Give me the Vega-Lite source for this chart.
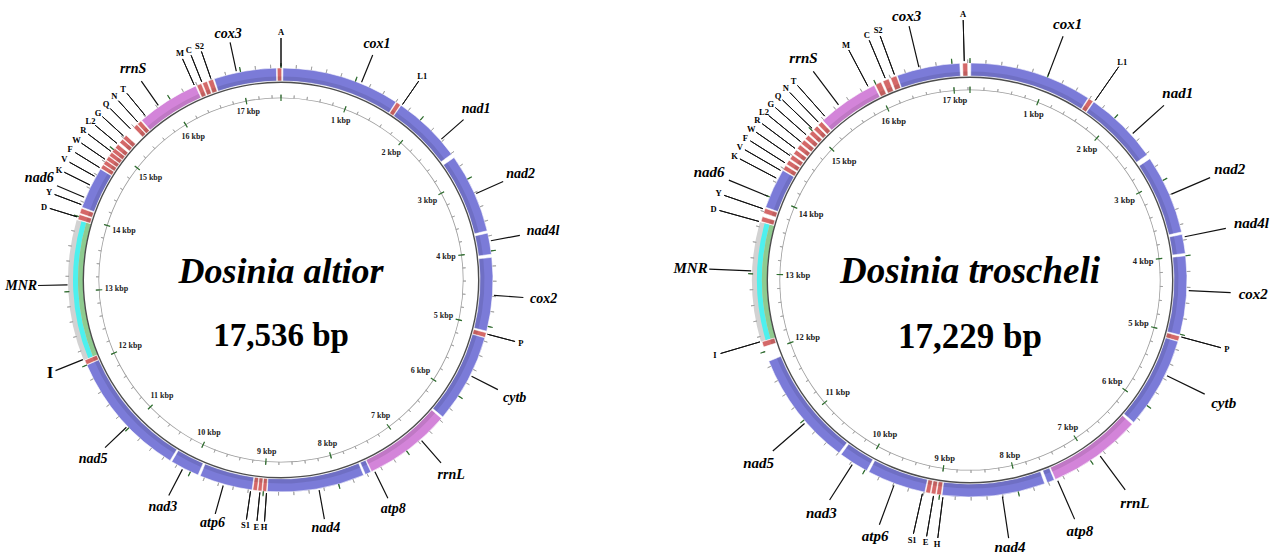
{
  "$schema": "https://vega.github.io/schema/vega-lite/v6.json",
  "background": "white",
  "padding": {"left": 0, "top": 6, "right": 0, "bottom": 0},
  "spacing": 94,
  "config": {"view": {"stroke": null}},
  "resolve": {"scale": {"theta": "independent", "color": "independent"}},
  "datasets": {
    "fa": [
      {"name": "A", "type": "tRNA", "start": 17486, "end": 17546, "lbp": 0},
      {"name": "cox1", "type": "gene", "start": 25, "end": 1600, "lbp": 1080},
      {"name": "L1", "type": "tRNA", "start": 1610, "end": 1672, "lbp": 1690},
      {"name": "nad1", "type": "gene", "start": 1680, "end": 2610, "lbp": 2372},
      {"name": "nad2", "type": "gene", "start": 2665, "end": 3730, "lbp": 3220},
      {"name": "nad4l", "type": "gene", "start": 3760, "end": 4045, "lbp": 3868},
      {"name": "cox2", "type": "gene", "start": 4085, "end": 5065, "lbp": 4585},
      {"name": "P", "type": "tRNA", "start": 5085, "end": 5150, "lbp": 5101},
      {"name": "cytb", "type": "gene", "start": 5155, "end": 6345, "lbp": 5690},
      {"name": "rrnL", "type": "rRNA", "start": 6370, "end": 7535, "lbp": 6762},
      {"name": "atp8", "type": "gene", "start": 7545, "end": 7625, "lbp": 7497},
      {"name": "nad4", "type": "gene", "start": 7650, "end": 8950, "lbp": 8267},
      {"name": "H", "type": "tRNA", "start": 8958, "end": 9012, "lbp": 8958},
      {"name": "E", "type": "tRNA", "start": 9020, "end": 9074, "lbp": 9045},
      {"name": "S1", "type": "tRNA", "start": 9082, "end": 9140, "lbp": 9168},
      {"name": "atp6", "type": "gene", "start": 9150, "end": 9860, "lbp": 9533},
      {"name": "nad3", "type": "gene", "start": 9890, "end": 10280, "lbp": 10108},
      {"name": "nad5", "type": "gene", "start": 10305, "end": 12000, "lbp": 11028},
      {"name": "I", "type": "tRNA", "start": 12005, "end": 12070, "lbp": 12086},
      {"name": "MNR", "type": "ctrl", "start": 12075, "end": 13950, "lbp": 13089},
      {"name": "D", "type": "tRNA", "start": 13960, "end": 14030, "lbp": 13990},
      {"name": "Y", "type": "tRNA", "start": 14045, "end": 14115, "lbp": 14160},
      {"name": "nad6", "type": "gene", "start": 14130, "end": 14690, "lbp": 14263},
      {"name": "K", "type": "tRNA", "start": 14700, "end": 14758, "lbp": 14440},
      {"name": "V", "type": "tRNA", "start": 14766, "end": 14824, "lbp": 14570},
      {"name": "F", "type": "tRNA", "start": 14832, "end": 14890, "lbp": 14700},
      {"name": "W", "type": "tRNA", "start": 14898, "end": 14956, "lbp": 14830},
      {"name": "R", "type": "tRNA", "start": 14964, "end": 15022, "lbp": 14960},
      {"name": "L2", "type": "tRNA", "start": 15030, "end": 15090, "lbp": 15090},
      {"name": "G", "type": "tRNA", "start": 15120, "end": 15180, "lbp": 15220},
      {"name": "Q", "type": "tRNA", "start": 15190, "end": 15250, "lbp": 15350},
      {"name": "N", "type": "tRNA", "start": 15390, "end": 15450, "lbp": 15480},
      {"name": "T", "type": "tRNA", "start": 15460, "end": 15520, "lbp": 15610},
      {"name": "rrnS", "type": "rRNA", "start": 15535, "end": 16380, "lbp": 15827},
      {"name": "M", "type": "tRNA", "start": 16395, "end": 16460, "lbp": 16367},
      {"name": "C", "type": "tRNA", "start": 16475, "end": 16540, "lbp": 16474},
      {"name": "S2", "type": "tRNA", "start": 16555, "end": 16625, "lbp": 16601},
      {"name": "cox3", "type": "gene", "start": 16640, "end": 17475, "lbp": 16947}
    ],
    "ft": [
      {"name": "cox1", "type": "gene", "start": 10, "end": 1580, "lbp": 1000},
      {"name": "L1", "type": "tRNA", "start": 1590, "end": 1655, "lbp": 1670},
      {"name": "nad1", "type": "gene", "start": 1665, "end": 2620, "lbp": 2297},
      {"name": "nad2", "type": "gene", "start": 2680, "end": 3695, "lbp": 3202},
      {"name": "nad4l", "type": "gene", "start": 3725, "end": 3970, "lbp": 3762},
      {"name": "cox2", "type": "gene", "start": 4000, "end": 5010, "lbp": 4440},
      {"name": "P", "type": "tRNA", "start": 5025, "end": 5090, "lbp": 5030},
      {"name": "cytb", "type": "gene", "start": 5095, "end": 6270, "lbp": 5548},
      {"name": "rrnL", "type": "rRNA", "start": 6300, "end": 7505, "lbp": 6868},
      {"name": "atp8", "type": "gene", "start": 7520, "end": 7615, "lbp": 7484},
      {"name": "nad4", "type": "gene", "start": 7650, "end": 8970, "lbp": 8207},
      {"name": "H", "type": "tRNA", "start": 8980, "end": 9040, "lbp": 8955},
      {"name": "E", "type": "tRNA", "start": 9050, "end": 9110, "lbp": 9074},
      {"name": "S1", "type": "tRNA", "start": 9120, "end": 9180, "lbp": 9216},
      {"name": "atp6", "type": "gene", "start": 9190, "end": 9945, "lbp": 9587},
      {"name": "nad3", "type": "gene", "start": 9975, "end": 10360, "lbp": 10172},
      {"name": "nad5", "type": "gene", "start": 10390, "end": 11870, "lbp": 10963},
      {"name": "I", "type": "tRNA", "start": 12060, "end": 12130, "lbp": 12136},
      {"name": "MNR", "type": "ctrl", "start": 12135, "end": 13660, "lbp": 13037},
      {"name": "D", "type": "tRNA", "start": 13670, "end": 13735, "lbp": 13664},
      {"name": "Y", "type": "tRNA", "start": 13780, "end": 13845, "lbp": 13831},
      {"name": "nad6", "type": "gene", "start": 13860, "end": 14375, "lbp": 13998},
      {"name": "K", "type": "tRNA", "start": 14385, "end": 14445, "lbp": 14250},
      {"name": "V", "type": "tRNA", "start": 14465, "end": 14525, "lbp": 14360},
      {"name": "F", "type": "tRNA", "start": 14545, "end": 14605, "lbp": 14470},
      {"name": "W", "type": "tRNA", "start": 14625, "end": 14685, "lbp": 14580},
      {"name": "R", "type": "tRNA", "start": 14705, "end": 14765, "lbp": 14690},
      {"name": "L2", "type": "tRNA", "start": 14785, "end": 14845, "lbp": 14800},
      {"name": "G", "type": "tRNA", "start": 14865, "end": 14925, "lbp": 14910},
      {"name": "Q", "type": "tRNA", "start": 14945, "end": 15005, "lbp": 15020},
      {"name": "N", "type": "tRNA", "start": 15025, "end": 15085, "lbp": 15130},
      {"name": "T", "type": "tRNA", "start": 15105, "end": 15165, "lbp": 15240},
      {"name": "rrnS", "type": "rRNA", "start": 15185, "end": 15975, "lbp": 15463},
      {"name": "M", "type": "tRNA", "start": 15990, "end": 16070, "lbp": 15899},
      {"name": "C", "type": "tRNA", "start": 16095, "end": 16175, "lbp": 16138},
      {"name": "S2", "type": "tRNA", "start": 16200, "end": 16280, "lbp": 16262},
      {"name": "cox3", "type": "gene", "start": 16290, "end": 17100, "lbp": 16583},
      {"name": "A", "type": "tRNA", "start": 17135, "end": 17200, "lbp": 17157}
    ],
    "kbp": [
      {"bp": 0, "t": ""}, {"bp": 1000, "t": "1 kbp"}, {"bp": 2000, "t": "2 kbp"}, {"bp": 3000, "t": "3 kbp"},
      {"bp": 4000, "t": "4 kbp"}, {"bp": 5000, "t": "5 kbp"}, {"bp": 6000, "t": "6 kbp"}, {"bp": 7000, "t": "7 kbp"},
      {"bp": 8000, "t": "8 kbp"}, {"bp": 9000, "t": "9 kbp"}, {"bp": 10000, "t": "10 kbp"}, {"bp": 11000, "t": "11 kbp"},
      {"bp": 12000, "t": "12 kbp"}, {"bp": 13000, "t": "13 kbp"}, {"bp": 14000, "t": "14 kbp"}, {"bp": 15000, "t": "15 kbp"},
      {"bp": 16000, "t": "16 kbp"}, {"bp": 17000, "t": "17 kbp"}
    ],
    "mtA": [
      {"bp": 0}, {"bp": 200}, {"bp": 400}, {"bp": 600}, {"bp": 800}, {"bp": 1000}, {"bp": 1200}, {"bp": 1400}, {"bp": 1600}, {"bp": 1800},
      {"bp": 2000}, {"bp": 2200}, {"bp": 2400}, {"bp": 2600}, {"bp": 2800}, {"bp": 3000}, {"bp": 3200}, {"bp": 3400}, {"bp": 3600}, {"bp": 3800},
      {"bp": 4000}, {"bp": 4200}, {"bp": 4400}, {"bp": 4600}, {"bp": 4800}, {"bp": 5000}, {"bp": 5200}, {"bp": 5400}, {"bp": 5600}, {"bp": 5800},
      {"bp": 6000}, {"bp": 6200}, {"bp": 6400}, {"bp": 6600}, {"bp": 6800}, {"bp": 7000}, {"bp": 7200}, {"bp": 7400}, {"bp": 7600}, {"bp": 7800},
      {"bp": 8000}, {"bp": 8200}, {"bp": 8400}, {"bp": 8600}, {"bp": 8800}, {"bp": 9000}, {"bp": 9200}, {"bp": 9400}, {"bp": 9600}, {"bp": 9800},
      {"bp": 10000}, {"bp": 10200}, {"bp": 10400}, {"bp": 10600}, {"bp": 10800}, {"bp": 11000}, {"bp": 11200}, {"bp": 11400}, {"bp": 11600}, {"bp": 11800},
      {"bp": 12000}, {"bp": 12200}, {"bp": 12400}, {"bp": 12600}, {"bp": 12800}, {"bp": 13000}, {"bp": 13200}, {"bp": 13400}, {"bp": 13600}, {"bp": 13800},
      {"bp": 14000}, {"bp": 14200}, {"bp": 14400}, {"bp": 14600}, {"bp": 14800}, {"bp": 15000}, {"bp": 15200}, {"bp": 15400}, {"bp": 15600}, {"bp": 15800},
      {"bp": 16000}, {"bp": 16200}, {"bp": 16400}, {"bp": 16600}, {"bp": 16800}, {"bp": 17000}, {"bp": 17200}, {"bp": 17400}
    ]
  },
  "hconcat": [
    {
      "width": 562,
      "height": 548,
      "layer": [
        {"data": {"name": "fa"}, "transform": [{"filter": "datum.type == 'ctrl'"}],
         "mark": {"type": "arc", "radius": 213, "radius2": 198, "fill": "#d2d2d2"},
         "encoding": {"theta": {"field": "start", "type": "quantitative", "stack": null, "scale": {"domain": [0, 17536]}}, "theta2": {"field": "end"}}},
        {"data": {"name": "fa"}, "transform": [{"filter": "datum.type == 'ctrl'"}],
         "mark": {"type": "arc", "radius": 208, "radius2": 203, "fill": "#4ef0ee"},
         "encoding": {"theta": {"field": "start", "type": "quantitative", "stack": null, "scale": {"domain": [0, 17536]}}, "theta2": {"field": "end"}}},
        {"data": {"name": "fa"}, "transform": [{"filter": "datum.type == 'ctrl'"}],
         "mark": {"type": "arc", "radius": 203, "radius2": 198, "fill": "#8fcb8f"},
         "encoding": {"theta": {"field": "start", "type": "quantitative", "stack": null, "scale": {"domain": [0, 17536]}}, "theta2": {"field": "end"}}},
        {"data": {"name": "fa"}, "transform": [{"filter": "datum.type != 'ctrl'"}],
         "mark": {"type": "arc", "radius": 212, "radius2": 199, "stroke": "white", "strokeWidth": 0.6},
         "encoding": {"theta": {"field": "start", "type": "quantitative", "stack": null, "scale": {"domain": [0, 17536]}}, "theta2": {"field": "end"},
                      "color": {"field": "type", "type": "nominal", "legend": null, "scale": {"domain": ["gene", "rRNA", "tRNA"], "range": ["#7b7bd8", "#d384d9", "#d46868"]}}}},
        {"data": {"name": "fa"}, "transform": [{"filter": "datum.type != 'ctrl'"}],
         "mark": {"type": "arc", "radius": 203.5, "radius2": 199, "fill": "#000", "fillOpacity": 0.09},
         "encoding": {"theta": {"field": "start", "type": "quantitative", "stack": null, "scale": {"domain": [0, 17536]}}, "theta2": {"field": "end"}}},
        {"data": {"values": [{}]}, "mark": {"type": "arc", "theta": 0, "theta2": 6.2832, "radius": 198.4, "radius2": 197, "fill": "#4d4d4d"}, "encoding": {}},
        {"data": {"values": [{}]}, "mark": {"type": "arc", "theta": 0, "theta2": 6.2832, "radius": 182.6, "radius2": 181.8, "fill": "#9c9c9c"}, "encoding": {}},
        {"data": {"name": "mtA"},
         "mark": {"type": "arc", "radius": 215.5, "radius2": 212, "filled": false, "stroke": "#a0a0a0", "strokeWidth": 0.8},
         "encoding": {"theta": {"field": "bp", "type": "quantitative", "stack": null, "scale": {"domain": [0, 17536]}}, "theta2": {"field": "bp"}}},
        {"data": {"name": "mtA"},
         "mark": {"type": "arc", "radius": 185, "radius2": 182, "filled": false, "stroke": "#a0a0a0", "strokeWidth": 0.8},
         "encoding": {"theta": {"field": "bp", "type": "quantitative", "stack": null, "scale": {"domain": [0, 17536]}}, "theta2": {"field": "bp"}}},
        {"data": {"name": "kbp"},
         "mark": {"type": "arc", "radius": 217, "radius2": 212, "filled": false, "stroke": "#2e6e2e", "strokeWidth": 1.2},
         "encoding": {"theta": {"field": "bp", "type": "quantitative", "stack": null, "scale": {"domain": [0, 17536]}}, "theta2": {"field": "bp"}}},
        {"data": {"name": "kbp"},
         "mark": {"type": "arc", "radius": 185.5, "radius2": 179, "filled": false, "stroke": "#2e6e2e", "strokeWidth": 1.2},
         "encoding": {"theta": {"field": "bp", "type": "quantitative", "stack": null, "scale": {"domain": [0, 17536]}}, "theta2": {"field": "bp"}}},
        {"data": {"name": "kbp"}, "transform": [{"filter": "datum.bp > 0"}],
         "mark": {"type": "text", "font": "Liberation Serif", "fontWeight": "bold", "fontSize": 8, "align": "center", "baseline": "middle", "color": "#222",
                  "radius": {"expr": "177 - abs(sin(2*PI*datum.bp/17536))*length(datum.t)*2 - abs(cos(2*PI*datum.bp/17536))*3.5"}},
         "encoding": {"theta": {"field": "bp", "type": "quantitative", "stack": null, "scale": {"domain": [0, 17536]}}, "text": {"field": "t"}}},
        {"data": {"name": "fa"}, "transform": [{"filter": "datum.type != 'tRNA' || datum.name == 'I'"}],
         "mark": {"type": "arc", "radius": 243, "radius2": 213.5, "filled": false, "stroke": "#111", "strokeWidth": 1.2},
         "encoding": {"theta": {"field": "lbp", "type": "quantitative", "stack": null, "scale": {"domain": [0, 17536]}}, "theta2": {"field": "lbp"}}},
        {"data": {"name": "fa"}, "transform": [{"filter": "datum.type == 'tRNA' && datum.name != 'I'"}],
         "mark": {"type": "arc", "radius": 242, "radius2": 213.5, "filled": false, "stroke": "#111", "strokeWidth": 1},
         "encoding": {"theta": {"field": "lbp", "type": "quantitative", "stack": null, "scale": {"domain": [0, 17536]}}, "theta2": {"field": "lbp"}}},
        {"data": {"name": "fa"}, "transform": [{"filter": "datum.type != 'tRNA'"}],
         "mark": {"type": "text", "font": "Liberation Serif", "fontWeight": "bold", "fontStyle": "italic", "fontSize": 14, "align": "center", "baseline": "middle", "color": "#000",
                  "radius": {"expr": "249 + abs(sin(2*PI*datum.lbp/17536))*length(datum.name)*3.6"}},
         "encoding": {"theta": {"field": "lbp", "type": "quantitative", "stack": null, "scale": {"domain": [0, 17536]}}, "text": {"field": "name"}}},
        {"data": {"name": "fa"}, "transform": [{"filter": "datum.type == 'tRNA' && datum.name != 'I'"}],
         "mark": {"type": "text", "font": "Liberation Serif", "fontWeight": "bold", "fontSize": 8.5, "align": "center", "baseline": "middle", "color": "#000", "radius": 248},
         "encoding": {"theta": {"field": "lbp", "type": "quantitative", "stack": null, "scale": {"domain": [0, 17536]}}, "text": {"field": "name"}}},
        {"data": {"name": "fa"}, "transform": [{"filter": "datum.name == 'I'"}],
         "mark": {"type": "text", "font": "Liberation Serif", "fontWeight": "bold", "fontSize": 17, "align": "center", "baseline": "middle", "color": "#000", "radius": 249},
         "encoding": {"theta": {"field": "lbp", "type": "quantitative", "stack": null, "scale": {"domain": [0, 17536]}}, "text": {"field": "name"}}},
        {"data": {"values": [{}]},
         "mark": {"type": "text", "text": "Dosinia altior", "font": "Liberation Serif", "fontWeight": "bold", "fontStyle": "italic", "fontSize": 36, "align": "center", "baseline": "alphabetic", "dy": 3, "color": "#000"},
         "encoding": {}},
        {"data": {"values": [{}]},
         "mark": {"type": "text", "text": "17,536 bp", "font": "Liberation Serif", "fontWeight": "bold", "fontSize": 33, "align": "center", "baseline": "alphabetic", "dy": 66, "color": "#000"},
         "encoding": {}}
      ]
    },
    {
      "width": 628,
      "height": 548,
      "layer": [
        {"data": {"name": "ft"}, "transform": [{"filter": "datum.type == 'ctrl'"}],
         "mark": {"type": "arc", "radius": 218, "radius2": 203, "fill": "#d2d2d2"},
         "encoding": {"theta": {"field": "start", "type": "quantitative", "stack": null, "scale": {"domain": [0, 17229]}}, "theta2": {"field": "end"}}},
        {"data": {"name": "ft"}, "transform": [{"filter": "datum.type == 'ctrl'"}],
         "mark": {"type": "arc", "radius": 213, "radius2": 208, "fill": "#4ef0ee"},
         "encoding": {"theta": {"field": "start", "type": "quantitative", "stack": null, "scale": {"domain": [0, 17229]}}, "theta2": {"field": "end"}}},
        {"data": {"name": "ft"}, "transform": [{"filter": "datum.type == 'ctrl'"}],
         "mark": {"type": "arc", "radius": 208, "radius2": 203, "fill": "#8fcb8f"},
         "encoding": {"theta": {"field": "start", "type": "quantitative", "stack": null, "scale": {"domain": [0, 17229]}}, "theta2": {"field": "end"}}},
        {"data": {"name": "ft"}, "transform": [{"filter": "datum.type != 'ctrl'"}],
         "mark": {"type": "arc", "radius": 217, "radius2": 204, "stroke": "white", "strokeWidth": 0.6},
         "encoding": {"theta": {"field": "start", "type": "quantitative", "stack": null, "scale": {"domain": [0, 17229]}}, "theta2": {"field": "end"},
                      "color": {"field": "type", "type": "nominal", "legend": null, "scale": {"domain": ["gene", "rRNA", "tRNA"], "range": ["#7b7bd8", "#d384d9", "#d46868"]}}}},
        {"data": {"name": "ft"}, "transform": [{"filter": "datum.type != 'ctrl'"}],
         "mark": {"type": "arc", "radius": 208.5, "radius2": 204, "fill": "#000", "fillOpacity": 0.09},
         "encoding": {"theta": {"field": "start", "type": "quantitative", "stack": null, "scale": {"domain": [0, 17229]}}, "theta2": {"field": "end"}}},
        {"data": {"values": [{}]}, "mark": {"type": "arc", "theta": 0, "theta2": 6.2832, "radius": 203.4, "radius2": 202, "fill": "#4d4d4d"}, "encoding": {}},
        {"data": {"values": [{}]}, "mark": {"type": "arc", "theta": 0, "theta2": 6.2832, "radius": 190.6, "radius2": 189.8, "fill": "#9c9c9c"}, "encoding": {}},
        {"data": {"name": "mtA"}, "transform": [{"filter": "datum.bp < 17229"}],
         "mark": {"type": "arc", "radius": 220.5, "radius2": 217, "filled": false, "stroke": "#a0a0a0", "strokeWidth": 0.8},
         "encoding": {"theta": {"field": "bp", "type": "quantitative", "stack": null, "scale": {"domain": [0, 17229]}}, "theta2": {"field": "bp"}}},
        {"data": {"name": "mtA"}, "transform": [{"filter": "datum.bp < 17229"}],
         "mark": {"type": "arc", "radius": 193, "radius2": 190, "filled": false, "stroke": "#a0a0a0", "strokeWidth": 0.8},
         "encoding": {"theta": {"field": "bp", "type": "quantitative", "stack": null, "scale": {"domain": [0, 17229]}}, "theta2": {"field": "bp"}}},
        {"data": {"name": "kbp"},
         "mark": {"type": "arc", "radius": 222, "radius2": 217, "filled": false, "stroke": "#2e6e2e", "strokeWidth": 1.2},
         "encoding": {"theta": {"field": "bp", "type": "quantitative", "stack": null, "scale": {"domain": [0, 17229]}}, "theta2": {"field": "bp"}}},
        {"data": {"name": "kbp"},
         "mark": {"type": "arc", "radius": 193.5, "radius2": 187, "filled": false, "stroke": "#2e6e2e", "strokeWidth": 1.2},
         "encoding": {"theta": {"field": "bp", "type": "quantitative", "stack": null, "scale": {"domain": [0, 17229]}}, "theta2": {"field": "bp"}}},
        {"data": {"name": "kbp"}, "transform": [{"filter": "datum.bp > 0"}],
         "mark": {"type": "text", "font": "Liberation Serif", "fontWeight": "bold", "fontSize": 8.5, "align": "center", "baseline": "middle", "color": "#222",
                  "radius": {"expr": "185 - abs(sin(2*PI*datum.bp/17229))*length(datum.t)*2.1 - abs(cos(2*PI*datum.bp/17229))*3.5"}},
         "encoding": {"theta": {"field": "bp", "type": "quantitative", "stack": null, "scale": {"domain": [0, 17229]}}, "text": {"field": "t"}}},
        {"data": {"name": "ft"}, "transform": [{"filter": "datum.type != 'tRNA'"}],
         "mark": {"type": "arc", "radius": 261, "radius2": 219, "filled": false, "stroke": "#111", "strokeWidth": 1.2},
         "encoding": {"theta": {"field": "lbp", "type": "quantitative", "stack": null, "scale": {"domain": [0, 17229]}}, "theta2": {"field": "lbp"}}},
        {"data": {"name": "ft"}, "transform": [{"filter": "datum.type == 'tRNA'"}],
         "mark": {"type": "arc", "radius": 260, "radius2": 219, "filled": false, "stroke": "#111", "strokeWidth": 1},
         "encoding": {"theta": {"field": "lbp", "type": "quantitative", "stack": null, "scale": {"domain": [0, 17229]}}, "theta2": {"field": "lbp"}}},
        {"data": {"name": "ft"}, "transform": [{"filter": "datum.type != 'tRNA'"}],
         "mark": {"type": "text", "font": "Liberation Serif", "fontWeight": "bold", "fontStyle": "italic", "fontSize": 15, "align": "center", "baseline": "middle", "color": "#000",
                  "radius": {"expr": "268 + abs(sin(2*PI*datum.lbp/17229))*length(datum.name)*3.9"}},
         "encoding": {"theta": {"field": "lbp", "type": "quantitative", "stack": null, "scale": {"domain": [0, 17229]}}, "text": {"field": "name"}}},
        {"data": {"name": "ft"}, "transform": [{"filter": "datum.type == 'tRNA'"}],
         "mark": {"type": "text", "font": "Liberation Serif", "fontWeight": "bold", "fontSize": 8.5, "align": "center", "baseline": "middle", "color": "#000", "radius": 266},
         "encoding": {"theta": {"field": "lbp", "type": "quantitative", "stack": null, "scale": {"domain": [0, 17229]}}, "text": {"field": "name"}}},
        {"data": {"values": [{}]},
         "mark": {"type": "text", "text": "Dosinia troscheli", "font": "Liberation Serif", "fontWeight": "bold", "fontStyle": "italic", "fontSize": 37, "align": "center", "baseline": "alphabetic", "dy": 3, "color": "#000"},
         "encoding": {}},
        {"data": {"values": [{}]},
         "mark": {"type": "text", "text": "17,229 bp", "font": "Liberation Serif", "fontWeight": "bold", "fontSize": 35, "align": "center", "baseline": "alphabetic", "dy": 68, "color": "#000"},
         "encoding": {}}
      ]
    }
  ]
}
